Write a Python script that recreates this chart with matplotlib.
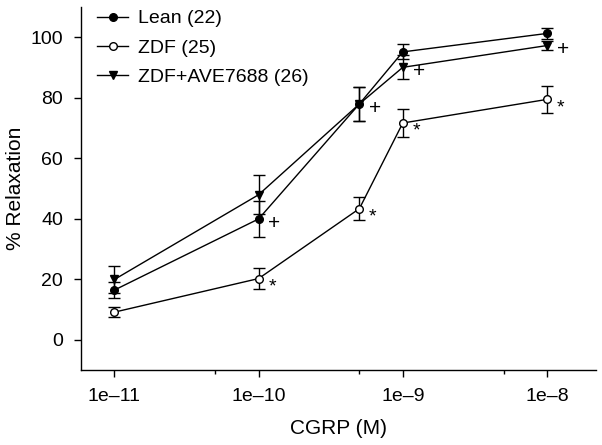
import numpy as np
import matplotlib.pyplot as plt
from matplotlib.ticker import FixedLocator, FixedFormatter

plt.rcParams['font.family'] = ['Liberation Sans', 'DejaVu Sans']

# CGRP concentrations (M)
conc = [1e-11, 1e-10, 5e-10, 1e-9, 1e-8]

lean_mean = [16.5, 40.0, 78.0, 95.2, 101.3]
lean_err = [2.5, 6.0, 5.5, 2.5, 1.7]

zdf_mean = [9.2, 20.3, 43.4, 71.7, 79.5]
zdf_err = [1.7, 3.5, 3.9, 4.5, 4.5]

ave_mean = [20.0, 48.0, 78.0, 90.1, 97.3]
ave_err = [4.5, 6.5, 5.5, 4.0, 1.5]

# significance marks at these concentration indices
plus_idx = [1, 2, 3, 4]
star_idx = [1, 2, 3, 4]

xticks = [1e-11, 1e-10, 1e-9, 1e-8]
xticklabels = ['1e\u201311', '1e\u201310', '1e\u20139', '1e\u20138']
xminor = [5e-11, 5e-10, 5e-9]
yticks = [0, 20, 40, 60, 80, 100]

fig = plt.figure(figsize=(6.02, 4.45), dpi=100)
ax = fig.add_axes([0.135, 0.168, 0.855, 0.816])

common = dict(color='k', lw=1.0, capsize=4.5, capthick=1.0, elinewidth=1.0, ms=5.5)
e1 = ax.errorbar(conc, lean_mean, yerr=lean_err, fmt='-o', mfc='k', mec='k',
                 zorder=3, **common)
e2 = ax.errorbar(conc, zdf_mean, yerr=zdf_err, fmt='-o', mfc='white', mec='k',
                 zorder=4, **common)
e3 = ax.errorbar(conc, ave_mean, yerr=ave_err, fmt='-v', mfc='k', mec='k',
                 zorder=3, **common)

# "+" next to ZDF+AVE7688 / Lean, "*" next to ZDF
plus_ref = [lean_mean[1], lean_mean[2], ave_mean[3], ave_mean[4]]
for i, yv in zip(plus_idx, plus_ref):
    ax.annotate('+', (conc[i], yv), xytext=(7, -3), textcoords='offset points',
                ha='left', va='center', fontsize=15)
for i in star_idx:
    ax.annotate('*', (conc[i], zdf_mean[i]), xytext=(7, -6), textcoords='offset points',
                ha='left', va='center', fontsize=14)

ax.set_xscale('log')
ax.set_xlim(10 ** -11.23, 10 ** -7.66)
ax.set_ylim(-10, 110)
ax.xaxis.set_major_locator(FixedLocator(xticks))
ax.xaxis.set_major_formatter(FixedFormatter(xticklabels))
ax.xaxis.set_minor_locator(FixedLocator(xminor))
ax.xaxis.set_minor_formatter(FixedFormatter([''] * len(xminor)))
ax.set_yticks(yticks)

for s in ['top', 'right']:
    ax.spines[s].set_visible(False)
for s in ['left', 'bottom']:
    ax.spines[s].set_linewidth(1.0)
ax.tick_params(axis='both', which='major', direction='out', length=5, width=1,
               labelsize=14, pad=8)
ax.tick_params(axis='x', which='minor', direction='out', length=3, width=1)

ax.set_xlabel('CGRP (M)', fontsize=15, labelpad=10)
ax.set_ylabel('% Relaxation', fontsize=15, va='center')
ax.yaxis.set_label_coords(-0.128, 0.5)

ax.legend([e1.lines[0], e2.lines[0], e3.lines[0]],
          ['Lean (22)', 'ZDF (25)', 'ZDF+AVE7688 (26)'],
          loc='upper left', frameon=False, fontsize=14, handlelength=1.6,
          handletextpad=0.5, labelspacing=0.6, borderaxespad=0.2,
          bbox_to_anchor=(0.008, 1.025))

fig.savefig('out.png', dpi=100)
